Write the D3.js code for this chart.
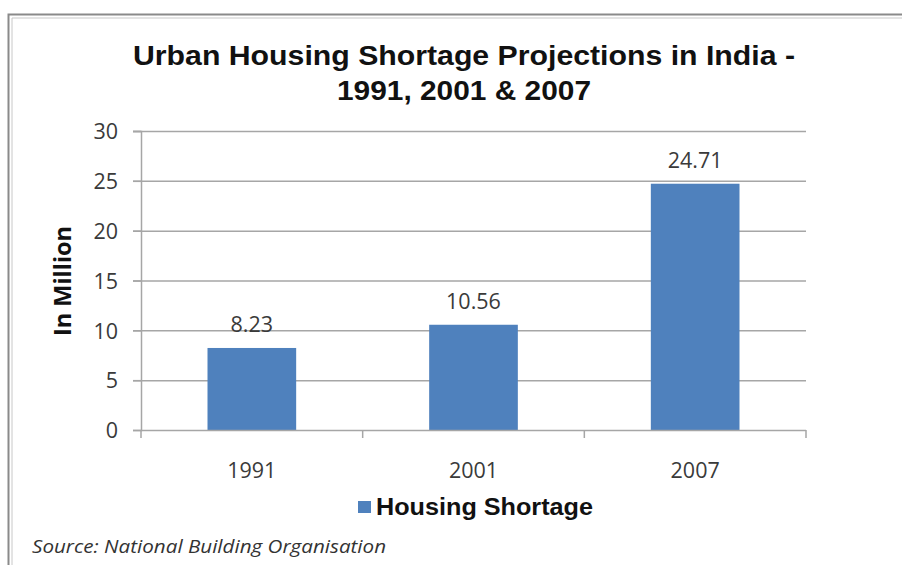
<!DOCTYPE html>
<html><head><meta charset="utf-8">
<script src="https://cdn.jsdelivr.net/npm/d3@7"></script>
<style>html,body{margin:0;padding:0;background:#fff;}</style>
</head><body>
<svg id="c" width="902" height="565"></svg>
<script>
const categories = ["1991", "2001", "2007"];
const values = [8.23, 10.56, 24.71];
const yTicks = [0, 5, 10, 15, 20, 25, 30];
const titleLines = ["Urban Housing Shortage Projections in India -", "1991, 2001 & 2007"];
const seriesName = "Housing Shortage";
const yTitle = "In Million";
const sourceText = "Source: National Building Organisation";

(function(){
const svg = d3.select("#c");
svg.append("rect").attr("width",902).attr("height",565).attr("fill","#fff");

// frame (double border)
svg.append("path").attr("d","M8.5,565 V14.5 H902").attr("fill","none").attr("stroke","#8a8a8a").attr("stroke-width",2);
svg.append("path").attr("d","M12,565 V18 H902").attr("fill","none").attr("stroke","#c8c8c8").attr("stroke-width",1);

const numFont = "'Open Sans', Lato, sans-serif";
const pLeft = 141, pRight = 806, pTop = 131, pBottom = 430;
const x = d3.scaleBand().domain(categories).range([pLeft, pRight]).paddingInner(0.6).paddingOuter(0.3);
const y = d3.scaleLinear().domain([0, 30]).range([pBottom, pTop]);

// gridlines
svg.append("g").selectAll("line").data(yTicks.filter(d=>d>0)).join("line")
  .attr("x1", pLeft-8).attr("x2", pRight).attr("y1", d=>y(d)+0.5).attr("y2", d=>y(d)+0.5)
  .attr("stroke","#a6a6a6").attr("stroke-width",1.5);

// bars
svg.append("g").selectAll("rect").data(values).join("rect")
  .attr("x",(d,i)=>x(categories[i])).attr("width",x.bandwidth())
  .attr("y",d=>y(d)).attr("height",d=>y(0)-y(d))
  .attr("fill","#4f81bd");

// y axis
const yAxis = svg.append("g").attr("transform",`translate(${pLeft},0)`)
  .call(d3.axisLeft(y).tickValues(yTicks).tickSize(8).tickPadding(15));
yAxis.select(".domain").attr("stroke","#a6a6a6").attr("stroke-width",1.5);
yAxis.selectAll(".tick line").attr("stroke","#a6a6a6").attr("stroke-width",1.5);
yAxis.selectAll("text").attr("font-family",numFont).attr("font-size",21.5).attr("fill","#3a3a3a").attr("dy","0.36em");

// x axis
const xEdges = d3.scaleLinear().domain([0,3]).range([pLeft,pRight]);
const xAxis = svg.append("g").attr("transform",`translate(0,${pBottom})`);
xAxis.append("line").attr("x1",pLeft).attr("x2",pRight).attr("y1",0.5).attr("y2",0.5).attr("stroke","#a6a6a6").attr("stroke-width",1.5);
xAxis.selectAll("line.t").data(d3.range(4)).join("line").attr("class","t")
  .attr("x1",d=>xEdges(d)).attr("x2",d=>xEdges(d)).attr("y1",0).attr("y2",8)
  .attr("stroke","#a6a6a6").attr("stroke-width",1.5);
xAxis.selectAll("text").data(categories).join("text")
  .attr("x",d=>x(d)+x.bandwidth()/2).attr("y",48)
  .attr("text-anchor","middle").attr("font-family",numFont).attr("font-size",21.5).attr("fill","#3a3a3a")
  .text(d=>d);

// value labels
svg.append("g").selectAll("text").data(values).join("text")
  .attr("x",(d,i)=>x(categories[i])+x.bandwidth()/2).attr("y",d=>y(d)-16)
  .attr("text-anchor","middle").attr("font-family",numFont).attr("font-size",21.5).attr("fill","#3a3a3a")
  .text(d=>d.toFixed(2));

// title
const titleWidths = [662, 254];
svg.append("text").attr("font-family","'Liberation Sans', Arial, sans-serif").attr("font-weight","bold")
  .attr("font-size",28).attr("text-anchor","middle").attr("fill","#111")
  .selectAll("tspan").data(titleLines).join("tspan").attr("x",464).attr("y",(d,i)=>65+i*35)
  .attr("textLength",(d,i)=>titleWidths[i]).attr("lengthAdjust","spacingAndGlyphs").text(d=>d);

// y title
svg.append("text").attr("transform","translate(71,281) rotate(-90)").attr("text-anchor","middle")
  .attr("font-family","'Open Sans', Lato, sans-serif").attr("font-weight","bold").attr("font-size",23).attr("fill","#111")
  .attr("textLength",110).attr("lengthAdjust","spacingAndGlyphs")
  .text(yTitle);

// legend
svg.append("rect").attr("x",358).attr("y",501).attr("width",13).attr("height",12).attr("fill","#4f81bd");
svg.append("text").attr("x",376).attr("y",515).attr("font-family","'Liberation Sans', Arial, sans-serif").attr("font-weight","bold")
  .attr("font-size",23.5).attr("fill","#111").attr("textLength",217).attr("lengthAdjust","spacingAndGlyphs").text(seriesName);

// source
svg.append("text").attr("x",32).attr("y",553).attr("font-family","'Open Sans', Lato, sans-serif").attr("font-style","italic")
  .attr("font-size",18.5).attr("fill","#333").attr("textLength",354).attr("lengthAdjust","spacingAndGlyphs").text(sourceText);
})();
</script>
</body></html>
